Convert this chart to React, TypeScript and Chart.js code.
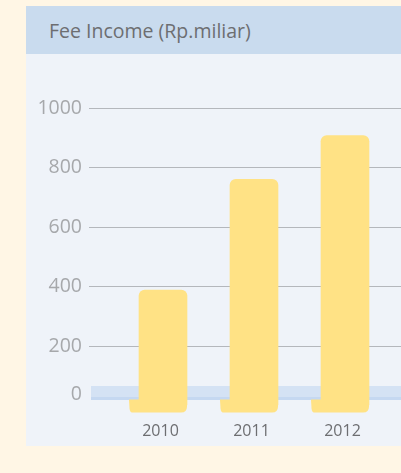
import { useEffect, useRef } from 'react';
import { Chart, registerables } from 'chart.js';

Chart.register(...registerables);

const title = 'Fee Income (Rp.miliar)';
const categories = ['2010', '2011', '2012'];
const values = [388, 760, 907];
const yTicks = [0, 200, 400, 600, 800, 1000];

const W = 401;
const H = 473;

const decoPlugin = {
  id: 'decoPlugin',
  beforeDatasetsDraw(chart: any) {
    const { ctx, chartArea, scales } = chart;
    const y0 = scales.y.getPixelForValue(0);
    ctx.save();
    ctx.fillStyle = '#d4e2f4';
    ctx.fillRect(chartArea.left + 2, y0 - 19.5, chartArea.right - chartArea.left, 14);
    ctx.fillStyle = '#c5d8f1';
    ctx.fillRect(chartArea.left + 2, y0 - 8.5, chartArea.right - chartArea.left, 3);
    ctx.restore();
  },
  afterDatasetsDraw(chart: any) {
    const { ctx } = chart;
    const meta = chart.getDatasetMeta(0);
    ctx.save();
    ctx.fillStyle = '#ffe285';
    meta.data.forEach((bar: any) => {
      const { x, width, base } = bar.getProps(['x', 'width', 'base'], true);
      const R = x + width / 2;
      const L = x - width / 2 - 10;
      const top = base - 5.5;
      const bot = base + 7.5;
      const r = 6;
      ctx.beginPath();
      ctx.moveTo(L, top);
      ctx.lineTo(R, top);
      ctx.lineTo(R, bot - r);
      ctx.quadraticCurveTo(R, bot, R - r, bot);
      ctx.lineTo(L + 3, bot);
      ctx.quadraticCurveTo(L + 1, bot, L + 0.5, bot - 4);
      ctx.lineTo(L, top);
      ctx.closePath();
      ctx.fill();
    });
    ctx.restore();
  },
};

export default function App() {
  const ref = useRef<HTMLCanvasElement | null>(null);

  useEffect(() => {
    if (!ref.current) return;
    Chart.defaults.font.family = "'Open Sans', sans-serif";
    const chart = new Chart(ref.current, {
      type: 'bar',
      data: {
        datasets: [
          {
            data: values.map((v, i) => ({ x: i, y: v })),
            backgroundColor: '#ffe285',
            borderWidth: 0,
            borderRadius: 6,
            barThickness: 48,
          },
        ],
      },
      plugins: [decoPlugin],
      options: {
        animation: false,
        responsive: false,
        maintainAspectRatio: false,
        layout: { padding: { top: 108, left: 0, right: 0, bottom: 0 } },
        plugins: { legend: { display: false }, tooltip: { enabled: false } },
        scales: {
          x: {
            type: 'linear',
            offset: false,
            min: -0.8132,
            max: 2.6154,
            grid: { display: false, offset: false },
            border: { display: false },
            afterBuildTicks: (s: any) => {
              s.ticks = categories.map((_, i) => ({ value: i }));
            },
            afterFit: (s: any) => {
              s.height = H - 405.5;
            },
            ticks: {
              callback: (v: any) => categories[v] ?? '',
              color: '#6d6e71',
              font: { size: 16 },
              padding: 8,
              labelOffset: -2.5,
              maxRotation: 0,
              autoSkip: false,
            },
          },
          y: {
            type: 'linear',
            min: 0,
            max: 1000,
            afterBuildTicks: (s: any) => {
              s.ticks = yTicks.map((v) => ({ value: v }));
            },
            afterFit: (s: any) => {
              s.width = 89;
            },
            grid: {
              color: (c: any) => (c.tick && c.tick.value === 0 ? 'rgba(0,0,0,0)' : '#b4b7bc'),
              lineWidth: 1,
              drawTicks: false,
            },
            border: { display: false },
            ticks: {
              callback: (v: any) => (v === 0 ? ['0', ''] : String(v)),
              color: '#a6a8ab',
              font: { size: 19.5, lineHeight: 1.1 },
              padding: 7,
            },
          },
        },
      },
    } as any);
    return () => chart.destroy();
  }, []);

  return (
    <div
      style={{
        position: 'fixed',
        left: 0,
        top: 0,
        width: W,
        height: H,
        background: '#fff6e5',
        overflow: 'hidden',
      }}
    >
      <div
        style={{
          position: 'absolute',
          left: 26,
          top: 6,
          width: 420,
          height: 440,
          background: '#eff3f9',
        }}
      >
        <div
          style={{
            height: 48,
            background: '#c9dbee',
            color: '#6d6e71',
            fontFamily: "'Open Sans', sans-serif",
            fontSize: 19.5,
            lineHeight: '48px',
            paddingLeft: 23,
            paddingTop: 1,
            boxSizing: 'border-box',
            whiteSpace: 'nowrap',
          }}
        >
          {title}
        </div>
      </div>
      <canvas
        ref={ref}
        width={W}
        height={H}
        style={{ position: 'absolute', left: 0, top: 0, width: W, height: H }}
      />
    </div>
  );
}
